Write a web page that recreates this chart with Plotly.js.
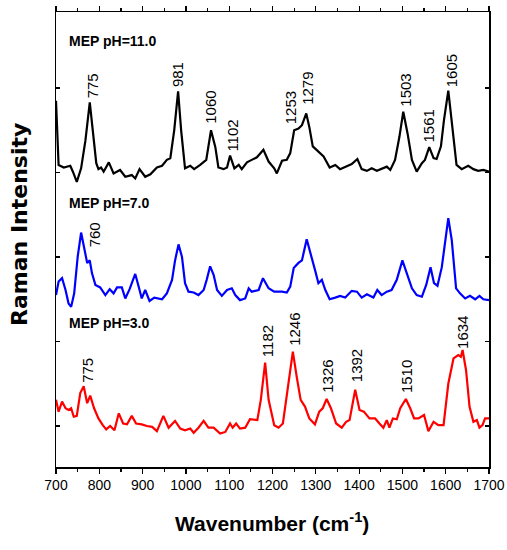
<!DOCTYPE html>
<html>
<head>
<meta charset="utf-8">
<script src="https://cdn.plot.ly/plotly-3.0.1.min.js"></script>
<style>html,body{margin:0;padding:0;background:#fff;}#chart{width:507px;height:550px;}</style>
</head>
<body>
<div id="chart"></div>
<script>
// ---- Data ----
const pH11X = [700,703,706,718,733,739,748,758,768,778,
  785,793,798,804,810,822,833,848,860,875,
  883,893,906,918,933,945,956,964,973,982,
  989,998,1010,1019,1033,1047,1058,1068,1075,1087,
  1095,1102,1112,1122,1129,1141,1152,1164,1179,1191,
  1204,1210,1222,1233,1241,1250,1260,1268,1278,1285,
  1293,1306,1318,1332,1345,1356,1372,1383,1396,1406,
  1418,1429,1441,1452,1464,1472,1483,1493,1502,1512,
  1522,1533,1545,1552,1562,1572,1579,1589,1596,1606,
  1616,1625,1637,1652,1664,1675,1687,1700];
const pH11Y = [3.85,3.45,3.09,3.06,3.08,3.01,2.89,3.05,3.38,3.83,
  3.50,3.11,3.04,3.06,3.01,3.12,2.99,3.03,2.95,2.97,
  2.93,3.04,2.95,2.98,3.06,3.08,3.15,3.17,3.50,3.96,
  3.50,3.05,3.08,3.04,3.09,3.15,3.50,3.30,3.06,3.04,
  3.06,3.20,3.05,3.09,3.04,3.12,3.15,3.18,3.27,3.13,
  3.05,2.99,3.14,3.15,3.23,3.50,3.52,3.56,3.70,3.54,
  3.31,3.25,3.19,3.06,3.09,3.04,3.08,3.10,3.16,3.04,
  3.02,3.05,3.02,3.04,3.07,3.03,3.15,3.42,3.72,3.46,
  3.15,3.01,3.11,3.15,3.30,3.17,3.16,3.31,3.62,3.97,
  3.50,3.09,3.04,3.08,3.04,3.02,3.03,3.01];

const pH7X = [700,706,714,722,729,735,742,750,758,765,
  772,778,783,791,802,814,824,833,841,852,
  860,870,883,893,898,906,916,927,945,956,
  968,975,983,991,998,1006,1018,1029,1041,1048,
  1056,1064,1072,1083,1095,1106,1114,1125,1137,1145,
  1152,1168,1178,1191,1204,1222,1233,1241,1249,1260,
  1268,1279,1291,1299,1306,1314,1322,1332,1345,1356,
  1368,1383,1395,1406,1418,1433,1442,1452,1464,1475,
  1487,1500,1510,1522,1533,1545,1555,1565,1573,1581,
  1591,1599,1606,1614,1624,1633,1645,1656,1668,1678,
  1687,1700];
const pH7Y = [1.55,1.71,1.75,1.61,1.45,1.41,1.57,2.00,2.29,2.12,
  1.93,1.96,1.81,1.67,1.64,1.55,1.62,1.57,1.64,1.64,
  1.51,1.62,1.80,1.61,1.51,1.61,1.48,1.52,1.50,1.57,
  1.73,1.96,2.15,2.00,1.69,1.59,1.58,1.55,1.61,1.73,
  1.89,1.79,1.61,1.54,1.61,1.63,1.55,1.49,1.51,1.63,
  1.59,1.61,1.75,1.63,1.59,1.59,1.58,1.65,1.87,1.93,
  1.96,2.21,1.96,1.83,1.69,1.73,1.61,1.50,1.52,1.54,
  1.52,1.60,1.59,1.52,1.56,1.52,1.61,1.55,1.59,1.61,
  1.73,1.96,1.81,1.63,1.55,1.53,1.67,1.88,1.69,1.66,
  1.88,2.20,2.46,2.20,1.63,1.57,1.51,1.54,1.50,1.54,
  1.50,1.49];

const pH3X = [700,706,714,722,729,735,741,748,756,764,
  772,779,788,798,808,816,825,835,845,855,
  864,875,885,898,910,922,933,948,960,975,
  987,998,1010,1018,1029,1041,1052,1064,1079,1091,
  1102,1108,1116,1125,1137,1148,1165,1173,1183,1191,
  1204,1214,1224,1233,1241,1247,1256,1265,1275,1285,
  1298,1308,1316,1325,1335,1347,1360,1370,1378,1391,
  1401,1411,1424,1437,1447,1456,1464,1470,1478,1487,
  1495,1508,1518,1527,1537,1550,1560,1572,1583,1595,
  1606,1618,1629,1635,1639,1647,1655,1664,1672,1678,
  1685,1691,1700];
const pH3Y = [0.31,0.17,0.29,0.21,0.19,0.21,0.11,0.12,0.39,0.47,
  0.27,0.36,0.21,0.09,0.01,-0.04,0.00,-0.05,0.15,0.03,
  0.02,0.12,0.03,0.02,0.00,-0.01,-0.06,0.12,-0.02,0.06,
  -0.03,-0.05,-0.03,-0.08,-0.02,0.06,-0.02,-0.02,-0.09,-0.07,
  0.03,-0.02,0.03,-0.03,-0.02,0.08,0.07,0.31,0.75,0.31,
  0.01,-0.02,0.03,0.35,0.66,0.88,0.58,0.31,0.23,0.09,
  0.02,0.17,0.21,0.32,0.21,0.03,-0.02,0.05,0.07,0.43,
  0.19,0.17,0.09,0.09,0.03,-0.02,0.07,-0.02,0.09,0.08,
  0.21,0.32,0.21,0.09,0.09,0.13,-0.06,0.05,0.01,0.01,
  0.50,0.80,0.84,0.82,0.90,0.66,0.23,0.05,0.07,-0.02,
  0.01,0.09,0.09];

// peak labels
const pH11PeakX = [783,981,1056,1108,1242,1279,1508,1560,1612];
const pH11PeakY = [3.86,3.99,3.55,3.22,3.55,3.78,3.76,3.33,3.99];
const pH11PeakText = ['775','981','1060','1102','1253','1279','1503','1561','1605'];
const pH7PeakX = [791];
const pH7PeakY = [2.09];
const pH7PeakText = ['760'];
const pH3PeakX = [771,1187,1252,1327,1393,1508,1639];
const pH3PeakY = [0.49,0.79,0.92,0.37,0.49,0.37,0.89];
const pH3PeakText = ['775','1182','1246','1326','1392','1510','1634'];

const seriesNames = ['MEP pH=11.0','MEP pH=7.0','MEP pH=3.0'];
const seriesLabelY = [4.56,2.64,1.22];
const xTickVals = [700,800,900,1000,1100,1200,1300,1400,1500,1600,1700];
const yTickVals = [0,1,2,3,4];

// ---- Build chart ----
const SANS = 'Arial, "Liberation Sans", sans-serif';
const traces = [
  {x: pH11X, y: pH11Y, color: '#000000'},
  {x: pH7X, y: pH7Y, color: '#0000ff'},
  {x: pH3X, y: pH3Y, color: '#ff0000'}
].map(s => ({x: s.x, y: s.y, type: 'scatter', mode: 'lines',
  line: {color: s.color, width: 2.2}, hoverinfo: 'skip', showlegend: false}));

const annotations = [];
function addPeaks(xs, ys, ts) {
  xs.forEach((x, i) => annotations.push({
    x: x, y: ys[i], xref: 'x', yref: 'y', text: ts[i], showarrow: false,
    textangle: -90, xanchor: 'center', yanchor: 'bottom',
    font: {family: SANS, size: 15, color: '#000'}
  }));
}
addPeaks(pH11PeakX, pH11PeakY, pH11PeakText);
addPeaks(pH7PeakX, pH7PeakY, pH7PeakText);
addPeaks(pH3PeakX, pH3PeakY, pH3PeakText);

seriesNames.forEach((n, i) => annotations.push({
  x: 725, y: seriesLabelY[i], xref: 'x', yref: 'y', text: '<b>' + n + '</b>',
  showarrow: false, xanchor: 'left', yanchor: 'middle',
  font: {family: SANS, size: 14, color: '#000'}
}));

annotations.push({
  x: -0.083, y: 0.532, xref: 'paper', yref: 'paper', text: '<b>Raman Intensity</b>',
  showarrow: false, textangle: -90, xanchor: 'center', yanchor: 'middle',
  font: {family: 'DejaVu Sans, sans-serif', size: 22, color: '#000'}
});
annotations.push({
  x: 0.499, y: -0.121, xref: 'paper', yref: 'paper',
  text: '<b>Wavenumber (cm<sup>-1</sup>)</b>',
  showarrow: false, xanchor: 'center', yanchor: 'middle',
  font: {family: SANS, size: 21, color: '#000'}
});

const layout = {
  width: 507, height: 550,
  margin: {l: 56, r: 18, t: 12, b: 83},
  paper_bgcolor: '#fff', plot_bgcolor: '#fff',
  showlegend: false,
  xaxis: {
    range: [700, 1700], tickvals: xTickVals, ticks: 'outside', ticklen: 5,
    tickwidth: 1.2, tickcolor: '#000',
    minor: {dtick: 50, ticks: 'outside', ticklen: 3, tickcolor: '#000', tickwidth: 1.2},
    showline: true, linecolor: '#000', linewidth: 1.5, mirror: 'ticks',
    showgrid: false, zeroline: false,
    tickfont: {family: SANS, size: 14, color: '#000'}
  },
  yaxis: {
    range: [-0.485, 4.9], tickvals: yTickVals, ticks: 'inside', ticklen: 4,
    tickwidth: 1.2, tickcolor: '#000', showticklabels: false,
    showline: true, linecolor: '#000', linewidth: 1.5, mirror: 'ticks',
    showgrid: false, zeroline: false
  },
  annotations: annotations
};

Plotly.newPlot('chart', traces, layout, {displayModeBar: false, staticPlot: true});
</script>
</body>
</html>
